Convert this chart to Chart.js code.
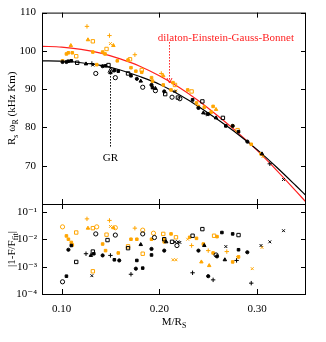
<!DOCTYPE html>
<html>
<head>
<meta charset="utf-8">
<script src="https://cdn.jsdelivr.net/npm/chart.js@4.4.0/dist/chart.umd.min.js"></script>
<style>
  body { margin: 0; background: #fff; }
  #wrap { position: relative; width: 326px; height: 342px; }
  canvas { position: absolute; left: 0; top: 0; }
</style>
</head>
<body>
<div id="wrap">
  <canvas id="topChart" width="326" height="342"></canvas>
  <canvas id="bottomChart" width="326" height="342"></canvas>
</div>
<script>
// axis ticks
const xTicks = [0.10, 0.20, 0.30];
const yTopTicks = [70, 80, 90, 100, 110];
const yBottomTicks = [1e-4, 1e-3, 1e-2, 1e-1];

// fitted curves
const curveX = [0.08, 0.10, 0.12, 0.14, 0.16, 0.18, 0.20, 0.22, 0.24, 0.26, 0.28, 0.30, 0.32, 0.34, 0.35];
const grCurve = [97.4, 97.3, 96.9, 96.2, 95.0, 93.3, 91.3, 88.6, 85.5, 82.0, 78.3, 74.2, 69.6, 64.7, 62.2];
const degbCurve = [101.2, 101.0, 100.4, 99.4, 97.9, 96.0, 93.5, 90.5, 87.0, 83.0, 78.7, 74.0, 68.8, 63.3, 60.5];

// top panel: GR data (black)
const grFilledCircle = [[0.101,97.1],[0.105,97.1],[0.142,96.0],[0.154,94.9],[0.177,92.7],[0.192,91.1],[0.205,89.4],[0.240,85.1],[0.250,83.5],[0.275,80.4],[0.290,76.3]];
const grFilledSquare = [[0.107,97.3],[0.110,97.4],[0.145,96.1],[0.158,94.7],[0.171,93.5],[0.193,90.4],[0.234,87.2],[0.268,80.4],[0.281,78.9]];
const grOpenCircle = [[0.135,94.1],[0.155,93.0],[0.183,90.5],[0.196,89.6],[0.213,87.9],[0.221,87.5]];
const grOpenSquare = [[0.116,96.9],[0.148,96.3],[0.168,94.1],[0.206,88.7],[0.219,87.8],[0.244,86.8],[0.265,82.5]];
const grTriangle = [[0.125,96.6],[0.150,94.3],[0.181,92.1],[0.196,90.2],[0.245,83.8],[0.258,82.5],[0.305,73.1]];
const grPlus = [[0.131,96.7],[0.248,83.5],[0.313,70.5]];
const grCross = [[0.132,96.3],[0.216,89.4],[0.327,66.4]];

// top panel: dEGB data (orange)
const dFilled = [[0.105,99.2],[0.107,99.5],[0.111,99.5],[0.101,97.4],[0.132,99.7],[0.142,99.7],[0.1445,99.2],[0.157,97.4],[0.168,97.6],[0.136,96.4],[0.171,95.6],[0.176,94.7],[0.182,94.4],[0.192,93.0],[0.193,92.1],[0.204,91.1],[0.214,91.7],[0.212,89.8],[0.229,89.8],[0.238,86.4],[0.240,85.5],[0.246,85.3],[0.255,85.5],[0.253,84.0],[0.275,80.4],[0.294,75.6],[0.304,73.1]];
const dOpenSquare = [[0.132,102.5],[0.146,100.5],[0.115,98.6],[0.170,97.8],[0.182,95.0],[0.216,91.1],[0.233,89.4],[0.280,79.3]];
const dTriangle = [[0.127,102.9],[0.1095,101.4],[0.153,101.4],[0.204,93.5],[0.258,84.7]];
const dPlus = [[0.126,106.4],[0.149,104.0],[0.175,99.0],[0.202,94.1]];
const dCross = [[0.150,101.9],[0.217,89.6],[0.306,72.4]];

// bottom panel: relative errors, GR (black)
const eGrOpenCircle = [[0.101,0.00028],[0.135,0.016],[0.155,0.0145],[0.183,0.016],[0.195,0.0118],[0.218,0.006],[0.258,0.0027]];
const eGrFilledCircle = [[0.107,0.0042],[0.142,0.0026],[0.159,0.0017],[0.176,0.00085],[0.192,0.0045],[0.205,0.0039],[0.240,0.0039],[0.250,0.00045],[0.259,0.0024],[0.290,0.0034]];
const eGrFilledSquare = [[0.105,0.00045],[0.110,0.006],[0.133,0.003],[0.154,0.0018],[0.177,0.0017],[0.183,0.00089],[0.192,0.0027],[0.264,0.018],[0.275,0.016],[0.281,0.0042]];
const eGrOpenSquare = [[0.115,0.0015],[0.132,0.0036],[0.147,0.0095],[0.168,0.0048],[0.205,0.0102],[0.213,0.0082],[0.234,0.0137],[0.244,0.024],[0.281,0.0145]];
const eGrTriangle = [[0.130,0.0026],[0.181,0.0065],[0.207,0.0082],[0.246,0.006],[0.267,0.0018]];
const eGrPlus = [[0.125,0.003],[0.150,0.0026],[0.171,0.00053],[0.234,0.0006],[0.255,0.00033],[0.279,0.0017],[0.294,0.00025]];
const eGrCross = [[0.131,0.00047],[0.216,0.0082],[0.219,0.0082],[0.221,0.0078],[0.268,0.0055],[0.304,0.006],[0.313,0.0082],[0.327,0.021]];

// bottom panel: relative errors, dEGB (orange)
const eDOpenCircle = [[0.101,0.029],[0.136,0.029],[0.155,0.027],[0.183,0.022],[0.194,0.017]];
const eDFilled = [[0.105,0.0135],[0.107,0.0102],[0.110,0.0078],[0.111,0.0063],[0.142,0.0068],[0.145,0.0039],[0.158,0.0032],[0.171,0.0102],[0.177,0.0102],[0.192,0.0102],[0.205,0.0082],[0.212,0.016],[0.231,0.012],[0.238,0.011],[0.245,0.0068],[0.255,0.0032],[0.259,0.0127],[0.275,0.0015],[0.281,0.0023]];
const eDOpenSquare = [[0.115,0.018],[0.132,0.026],[0.132,0.00068],[0.146,0.015],[0.168,0.0056],[0.183,0.0030],[0.204,0.016],[0.217,0.012],[0.256,0.0137]];
const eDTriangle = [[0.127,0.026],[0.153,0.027],[0.205,0.0102],[0.243,0.0015],[0.251,0.0011]];
const eDPlus = [[0.126,0.057],[0.149,0.050],[0.175,0.026],[0.233,0.006],[0.250,0.0039],[0.269,0.0036]];
const eDCross = [[0.150,0.030],[0.214,0.0018],[0.217,0.0018],[0.229,0.0102],[0.280,0.0022],[0.295,0.00085],[0.305,0.0051]];

const BLACK = '#000000';
const ORANGE = '#ffa500';
const RED = '#ff2020';
const SERIF = '"Liberation Serif", "DejaVu Serif", serif';

function pts(arr) {
    return arr.map(p => ({ x: p[0], y: p[1] }));
}

// marker styles, roughly like gnuplot point types
function markers(arr, color, kind) {
    const ds = { data: pts(arr), borderColor: color, borderWidth: 1, order: 1 };
    if (kind === 'filledCircle') Object.assign(ds, { pointStyle: 'circle', backgroundColor: color, pointRadius: 1.6 });
    if (kind === 'openCircle') Object.assign(ds, { pointStyle: 'circle', backgroundColor: 'rgba(0,0,0,0)', pointRadius: 2.1 });
    if (kind === 'filledSquare') Object.assign(ds, { pointStyle: 'rect', backgroundColor: color, pointRadius: 1.8 });
    if (kind === 'openSquare') Object.assign(ds, { pointStyle: 'rect', backgroundColor: 'rgba(0,0,0,0)', pointRadius: 2.4 });
    if (kind === 'triangle') Object.assign(ds, { pointStyle: 'triangle', backgroundColor: color, pointRadius: 2 });
    if (kind === 'plus') Object.assign(ds, { pointStyle: 'cross', backgroundColor: color, pointRadius: 2.2 });
    if (kind === 'cross') Object.assign(ds, { pointStyle: 'crossRot', backgroundColor: color, pointRadius: 2 });
    return ds;
}

// draw text made of pieces, some of them subscripts
function drawRich(ctx, parts, x, y, size, color, rotate) {
    ctx.save();
    ctx.translate(x, y);
    if (rotate) ctx.rotate(-Math.PI / 2);
    ctx.fillStyle = color;
    ctx.textBaseline = 'alphabetic';
    ctx.textAlign = 'left';
    let w = 0;
    parts.forEach(p => {
        ctx.font = (p[1] ? size * 0.72 : size) + 'px ' + SERIF;
        w += ctx.measureText(p[0]).width;
    });
    let cx = -w / 2;
    parts.forEach(p => {
        ctx.font = (p[1] ? size * 0.72 : size) + 'px ' + SERIF;
        ctx.fillText(p[0], cx, p[1] === 'sub' ? size * 0.3 : 0);
        cx += ctx.measureText(p[0]).width;
    });
    ctx.restore();
}

// frame with inward ticks on all four sides
const framePlugin = {
    id: 'frame',
    afterDraw(chart) {
        const { ctx, chartArea: a, scales } = chart;
        ctx.save();
        ctx.strokeStyle = BLACK;
        ctx.lineWidth = 1;
        ctx.beginPath();
        scales.x.ticks.forEach(t => {
            const px = Math.round(scales.x.getPixelForValue(t.value)) + 0.5;
            ctx.moveTo(px, a.bottom); ctx.lineTo(px, a.bottom - 5);
            ctx.moveTo(px, a.top); ctx.lineTo(px, a.top + 5);
        });
        scales.y.ticks.forEach(t => {
            const py = Math.round(scales.y.getPixelForValue(t.value)) + 0.5;
            ctx.moveTo(a.left, py); ctx.lineTo(a.left + 5, py);
            ctx.moveTo(a.right, py); ctx.lineTo(a.right - 5, py);
        });
        ctx.stroke();
        ctx.strokeRect(a.left + 0.5, a.top + 0.5, a.right - a.left - 1, a.bottom - a.top);
        ctx.restore();
    }
};

// labels and arrows of the upper panel
const notesPlugin = {
    id: 'notes',
    afterDraw(chart) {
        const { ctx, scales } = chart;
        const x = scales.x, y = scales.y;
        ctx.save();
        ctx.setLineDash([1.5, 1.5]);
        ctx.lineWidth = 1;
        // dEGB arrow
        let ax = Math.round(x.getPixelForValue(0.21)) + 0.5;
        let y0 = y.getPixelForValue(102.3), y1 = y.getPixelForValue(91.6);
        ctx.strokeStyle = RED;
        ctx.beginPath(); ctx.moveTo(ax, y0); ctx.lineTo(ax, y1); ctx.stroke();
        ctx.setLineDash([]);
        ctx.beginPath(); ctx.moveTo(ax - 2.5, y1 - 5); ctx.lineTo(ax, y1); ctx.lineTo(ax + 2.5, y1 - 5); ctx.stroke();
        // GR arrow
        ctx.setLineDash([1.5, 1.5]);
        ax = Math.round(x.getPixelForValue(0.15)) + 0.5;
        y0 = y.getPixelForValue(75.0); y1 = y.getPixelForValue(95.6);
        ctx.strokeStyle = BLACK;
        ctx.beginPath(); ctx.moveTo(ax, y0); ctx.lineTo(ax, y1); ctx.stroke();
        ctx.setLineDash([]);
        ctx.beginPath(); ctx.moveTo(ax - 2.5, y1 + 5); ctx.lineTo(ax, y1); ctx.lineTo(ax + 2.5, y1 + 5); ctx.stroke();
        ctx.restore();
        drawRich(ctx, [['dilaton-Einstein-Gauss-Bonnet']], x.getPixelForValue(0.268), y.getPixelForValue(102.7), 11, RED);
        drawRich(ctx, [['GR']], x.getPixelForValue(0.15), y.getPixelForValue(71.2), 11, BLACK);
        drawRich(ctx, [['R'], ['s', 'sub'], [' \u03c9'], ['R', 'sub'], [' (kHz Km)']], 15, (chart.chartArea.top + chart.chartArea.bottom) / 2, 11, BLACK, true);
    }
};

const lowerTitles = {
    id: 'lowerTitles',
    afterDraw(chart) {
        const { ctx, chartArea: a } = chart;
        drawRich(ctx, [['|1-F/F'], ['fit', 'sub'], ['|']], 15, (a.top + a.bottom) / 2, 11, BLACK, true);
        drawRich(ctx, [['M/R'], ['S', 'sub']], (a.left + a.right) / 2, 325, 11, BLACK);
    }
};

const tickFont = { family: SERIF, size: 11 };
const supers = { '-': '\u207b', '1': '\u00b9', '2': '\u00b2', '3': '\u00b3', '4': '\u2074' };

// upper panel
new Chart(document.getElementById('topChart'), {
    type: 'scatter',
    data: {
        datasets: [
            { data: curveX.map((v, i) => ({ x: v, y: grCurve[i] })), showLine: true, borderColor: BLACK, borderWidth: 1.2, pointRadius: 0, cubicInterpolationMode: 'monotone', order: 2 },
            { data: curveX.map((v, i) => ({ x: v, y: degbCurve[i] })), showLine: true, borderColor: RED, borderWidth: 1.2, pointRadius: 0, cubicInterpolationMode: 'monotone', order: 2 },
            markers(grFilledCircle, BLACK, 'filledCircle'),
            markers(grFilledSquare, BLACK, 'filledSquare'),
            markers(grOpenCircle, BLACK, 'openCircle'),
            markers(grOpenSquare, BLACK, 'openSquare'),
            markers(grTriangle, BLACK, 'triangle'),
            markers(grPlus, BLACK, 'plus'),
            markers(grCross, BLACK, 'cross'),
            markers(dFilled, ORANGE, 'filledSquare'),
            markers(dOpenSquare, ORANGE, 'openSquare'),
            markers(dTriangle, ORANGE, 'triangle'),
            markers(dPlus, ORANGE, 'plus'),
            markers(dCross, ORANGE, 'cross'),
        ]
    },
    options: {
        responsive: false,
        animation: false,
        events: [],
        layout: { padding: { left: 0, right: 20, top: 10, bottom: 138 } },
        plugins: { legend: { display: false }, tooltip: { enabled: false } },
        scales: {
            x: {
                type: 'linear', min: 0.08, max: 0.35,
                grid: { display: false, drawTicks: false },
                border: { display: false },
                ticks: { display: false },
                afterBuildTicks: s => { s.ticks = xTicks.map(v => ({ value: v })); },
                afterFit: s => { s.height = 0; }
            },
            y: {
                type: 'linear', min: 60, max: 110,
                grid: { display: false, drawTicks: false },
                border: { display: false },
                ticks: { font: tickFont, color: BLACK, padding: 6 },
                afterBuildTicks: s => { s.ticks = yTopTicks.map(v => ({ value: v })); },
                afterFit: s => { s.width = 42; }
            }
        }
    },
    plugins: [framePlugin, notesPlugin]
});

// lower panel
new Chart(document.getElementById('bottomChart'), {
    type: 'scatter',
    data: {
        datasets: [
            markers(eGrOpenCircle, BLACK, 'openCircle'),
            markers(eGrFilledCircle, BLACK, 'filledCircle'),
            markers(eGrFilledSquare, BLACK, 'filledSquare'),
            markers(eGrOpenSquare, BLACK, 'openSquare'),
            markers(eGrTriangle, BLACK, 'triangle'),
            markers(eGrPlus, BLACK, 'plus'),
            markers(eGrCross, BLACK, 'cross'),
            markers(eDOpenCircle, ORANGE, 'openCircle'),
            markers(eDFilled, ORANGE, 'filledSquare'),
            markers(eDOpenSquare, ORANGE, 'openSquare'),
            markers(eDTriangle, ORANGE, 'triangle'),
            markers(eDPlus, ORANGE, 'plus'),
            markers(eDCross, ORANGE, 'cross'),
        ]
    },
    options: {
        responsive: false,
        animation: false,
        events: [],
        layout: { padding: { left: 0, right: 20, top: 204, bottom: 0 } },
        plugins: { legend: { display: false }, tooltip: { enabled: false } },
        scales: {
            x: {
                type: 'linear', min: 0.08, max: 0.35,
                grid: { display: false, drawTicks: false },
                border: { display: false },
                ticks: { font: tickFont, color: BLACK, padding: 9, callback: v => v.toFixed(2) },
                afterBuildTicks: s => { s.ticks = xTicks.map(v => ({ value: v })); },
                afterFit: s => { s.height = 48; }
            },
            y: {
                type: 'logarithmic', min: 1e-4, max: 0.2,
                grid: { display: false, drawTicks: false },
                border: { display: false },
                ticks: {
                    font: tickFont, color: BLACK, padding: 5,
                    callback: v => '10' + String(Math.round(Math.log10(v))).split('').map(c => supers[c]).join('')
                },
                afterBuildTicks: s => { s.ticks = yBottomTicks.map(v => ({ value: v })); },
                afterFit: s => { s.width = 42; }
            }
        }
    },
    plugins: [framePlugin, lowerTitles]
});
</script>
</body>
</html>
